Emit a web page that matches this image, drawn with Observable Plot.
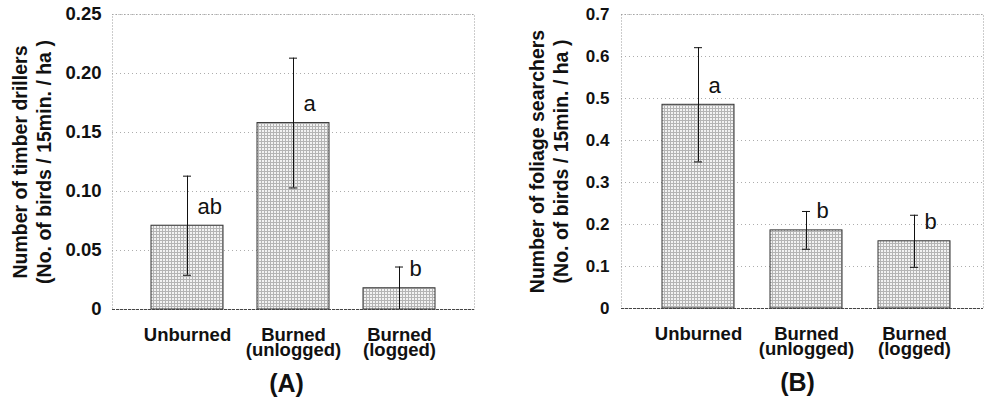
<!DOCTYPE html>
<html>
<head>
<meta charset="utf-8">
<script src="https://cdn.jsdelivr.net/npm/d3@7"></script>
<script src="https://cdn.jsdelivr.net/npm/@observablehq/plot@0.6"></script>
<style>
  html, body { margin: 0; padding: 0; background: #fff; }
  #wrap { display: flex; flex-direction: row; width: 985px; height: 403px; overflow: hidden; }
  #wrap svg { display: block; }
</style>
</head>
<body>
<div id="wrap"><div id="a"></div><div id="b"></div></div>
<script>
// ---- data ----
const categories = ["Unburned", "Burned\n(unlogged)", "Burned\n(logged)"];

const meansA = [0.071, 0.158, 0.018];
const errA = [0.042, 0.055, 0.018];
const lettersA = ["ab", "a", "b"];
const yTicksA = [0, 0.05, 0.10, 0.15, 0.20, 0.25];
const titleA = "Number of timber drillers\n(No. of birds / 15min. / ha )";
const panelA = "(A)";

const meansB = [0.485, 0.186, 0.160];
const errB = [0.136, 0.045, 0.062];
const lettersB = ["a", "b", "b"];
const yTicksB = [0, 0.1, 0.2, 0.3, 0.4, 0.5, 0.6, 0.7];
const titleB = "Number of foliage searchers\n(No. of birds / 15min. / ha )";
const panelB = "(B)";

const FONT = "'Liberation Sans', Arial, Helvetica, sans-serif";

function rows(means, errs, letters) {
  return categories.map((c, i) => ({cat: c, mean: means[i], err: errs[i], letter: letters[i]}));
}

function addPattern(svg, id) {
  const defs = d3.select(svg).insert("defs", ":first-child");
  const p = defs.append("pattern").attr("id", id)
    .attr("patternUnits", "userSpaceOnUse").attr("width", 3).attr("height", 3);
  p.append("rect").attr("width", 3).attr("height", 3).attr("fill", "#f2f2f2");
  p.append("rect").attr("width", 3).attr("height", 1).attr("fill", "#b4b4b4");
  p.append("rect").attr("width", 1).attr("height", 3).attr("fill", "#b4b4b4");
}

function panel(cfg) {
  const data = rows(cfg.means, cfg.errs, cfg.letters);
  const svg = Plot.plot({
    width: cfg.width,
    height: 403,
    marginLeft: cfg.ml,
    marginRight: cfg.mr,
    marginTop: 14,
    marginBottom: cfg.mb,
    style: {fontFamily: FONT, fontSize: "18.5px", color: "#111", background: "#fff"},
    x: {domain: categories, paddingInner: cfg.pi, paddingOuter: cfg.po, align: cfg.align, label: null},
    y: {domain: cfg.domain, label: null},
    marks: [
      Plot.gridY(cfg.ticks, {stroke: "#999", strokeOpacity: 0.8, strokeDasharray: "1,3"}),
      Plot.frame({stroke: "#999", strokeDasharray: "1,2"}),
      Plot.barY(data, {x: "cat", y: "mean", fill: `url(#${cfg.pid})`, stroke: "#333", strokeWidth: 1}),
      Plot.ruleY([0], {stroke: "#444", strokeDasharray: "3,1"}),
      Plot.ruleX(data, {x: "cat", y1: d => Math.max(0, d.mean - d.err), y2: d => d.mean + d.err, stroke: "#111", strokeWidth: 1}),
      Plot.tickY(data, {x: "cat", y: d => d.mean + d.err, stroke: "#111", insetLeft: 32, insetRight: 32}),
      Plot.tickY(data.filter(d => d.mean - d.err > 0.001), {x: "cat", y: d => d.mean - d.err, stroke: "#111", insetLeft: 32, insetRight: 32}),
      Plot.text(data, {x: "cat", y: "mean", text: "letter", textAnchor: "start", dx: 10, dy: -19, fontSize: 22, fontWeight: "normal", fill: "#111"}),
      Plot.axisY({ticks: cfg.ticks, tickFormat: cfg.fmt, tickSize: 0, tickPadding: cfg.tp, fontSize: cfg.tickFont, fontWeight: "bold", label: null}),
      Plot.axisX({tickSize: 0, tickPadding: 20, fontWeight: "bold", fontSize: 18.5, lineHeight: 0.84, label: null}),
      Plot.text([cfg.title], {frameAnchor: "left", textAnchor: "middle", lineAnchor: "middle", rotate: -90, dx: cfg.tdx, lineHeight: 1.23, fontSize: 19.5, fontWeight: "bold", fill: "#111"}),
      Plot.text([cfg.panel], {frameAnchor: "bottom", dx: cfg.pdx, dy: 82, fontSize: 25, fontWeight: "bold", fill: "#111"})
    ]
  });
  addPattern(svg, cfg.pid);
  return svg;
}

document.getElementById("a").append(panel({
  width: 490, ml: 112, mr: 16, mb: 94,
  pi: 0.324, po: 0.366, align: 0.5,
  domain: [0, 0.25], ticks: yTicksA, fmt: d => d === 0 ? "0" : d.toFixed(2), tp: 11, tickFont: 18.5,
  means: meansA, errs: errA, letters: lettersA,
  title: titleA, tdx: -81, panel: panelA, pdx: -7, pid: "meshA"
}));

document.getElementById("b").append(panel({
  width: 495, ml: 131, mr: 2, mb: 95,
  pi: 0.329, po: 0.329, align: 0.56,
  domain: [0, 0.7], ticks: yTicksB, fmt: d => d === 0 ? "0" : d.toFixed(1), tp: 12, tickFont: 17,
  means: meansB, errs: errB, letters: lettersB,
  title: titleB, tdx: -73, panel: panelB, pdx: -5, pid: "meshB"
}));
</script>
</body>
</html>
